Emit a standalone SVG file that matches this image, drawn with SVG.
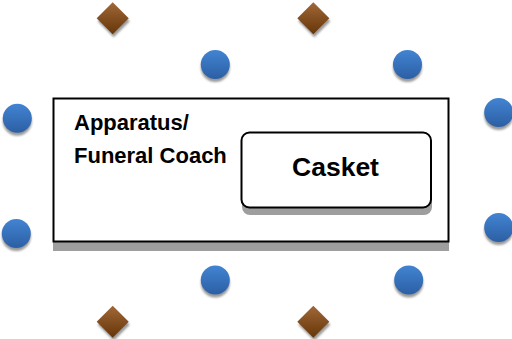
<svg xmlns="http://www.w3.org/2000/svg" width="512" height="339" viewBox="0 0 512 339">
<defs>
<linearGradient id="gBrown" x1="0" y1="0" x2="0" y2="1"><stop offset="0" stop-color="#a06838"/><stop offset="1" stop-color="#663508"/></linearGradient>
<linearGradient id="gBlue" x1="0" y1="0" x2="0" y2="1"><stop offset="0" stop-color="#4284d2"/><stop offset="1" stop-color="#2c5fa4"/></linearGradient>
<filter id="blur" x="-20%" y="-20%" width="140%" height="140%"><feGaussianBlur stdDeviation="0.8"/></filter>
<g id="diamond">
<polygon points="0,-16 16,0 0,16 -16,0" transform="translate(1,3)" fill="#9a9a9a" filter="url(#blur)"/>
<polygon points="0,-16 16,0 0,16 -16,0" fill="url(#gBrown)"/>
</g>
<g id="dot">
<circle cx="0" cy="3" r="14.5" fill="#9a9a9a" filter="url(#blur)"/>
<circle cx="0" cy="0" r="14.5" fill="url(#gBlue)"/>
</g>
</defs>
<style>
.box{fill:#ffffff;stroke:#000000;stroke-width:2}
.shadow{fill:#9e9e9e}
.lbl{font-family:"Liberation Sans",Arial,sans-serif;font-weight:bold;fill:#000000}
</style>
<g id="markers">
<use href="#diamond" x="112.7" y="18.3"/>
<use href="#diamond" x="313.3" y="18.3"/>
<use href="#diamond" x="112.7" y="321.7"/>
<use href="#diamond" x="313.3" y="321.7"/>
<use href="#dot" x="215.3" y="64.5"/>
<use href="#dot" x="407.5" y="64.5"/>
<use href="#dot" x="17.3" y="118.3"/>
<use href="#dot" x="498.7" y="112.5"/>
<use href="#dot" x="16.3" y="233.5"/>
<use href="#dot" x="498.7" y="227.5"/>
<use href="#dot" x="215.3" y="280"/>
<use href="#dot" x="408.7" y="280"/>
</g>
<g id="apparatus">
<rect class="shadow" x="53" y="106" width="396" height="145"/>
<rect class="box" x="53.5" y="98.5" width="395" height="143"/>
<text class="lbl" x="74" y="129.5" font-size="22">Apparatus/</text>
<text class="lbl" x="74" y="163.3" font-size="22">Funeral Coach</text>
</g>
<g id="casket">
<rect class="shadow" x="242" y="139" width="190" height="76" rx="8"/>
<rect class="box" x="241.5" y="132.5" width="189.5" height="75" rx="8"/>
<text class="lbl" x="335.5" y="176" font-size="26.5" text-anchor="middle">Casket</text>
</g>
</svg>
